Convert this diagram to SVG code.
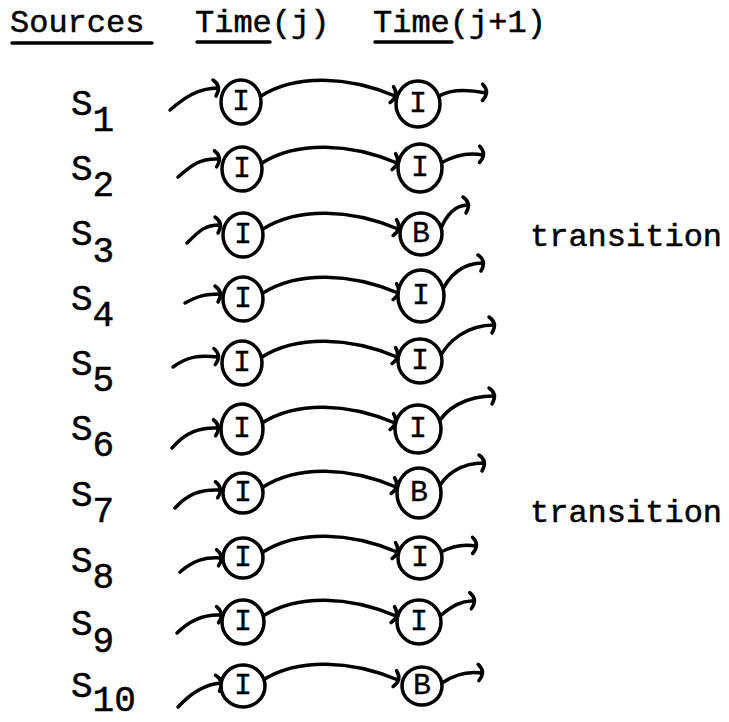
<svg xmlns="http://www.w3.org/2000/svg" width="729" height="722" viewBox="0 0 729 722">
  <style>
    .tw { font-family: "Liberation Mono", "Courier New", monospace; fill: #000; stroke: #000; stroke-width: 0.5; }
    .head { font-size: 32px; }
    .src { font-size: 36px; }
    .lab { font-size: 30px; text-anchor: middle; stroke-width: 0.3; }
    .uline { stroke: #000; stroke-width: 3.5; stroke-linecap: round; }
    .node ellipse { fill: #fff; stroke: #000; stroke-width: 3.5; }
    .edge { fill: none; stroke: #000; stroke-width: 3.5; stroke-linecap: round; marker-end: url(#hook); }
  </style>
  <defs>
    <marker id="hook" markerUnits="userSpaceOnUse" orient="auto" overflow="visible" markerWidth="20" markerHeight="20" refX="0" refY="0">
      <path d="M -5 -8 Q 4 -2 -2 8" fill="none" stroke="#000" stroke-width="3.5" stroke-linecap="round"/>
    </marker>
  </defs>
  <rect width="729" height="722" fill="#fff"/>

  <!-- column headings -->
  <g id="headings">
    <text class="tw head" x="10" y="32">Sources</text>
    <text class="tw head" x="195" y="32">Time(j)</text>
    <text class="tw head" x="373" y="32">Time(j+1)</text>
    <line class="uline" x1="12" y1="43" x2="152" y2="43"/>
    <line class="uline" x1="197" y1="42" x2="270" y2="42"/>
    <line class="uline" x1="375" y1="42" x2="452" y2="42"/>
  </g>

  <!-- source labels -->
  <g id="sources">
    <text class="tw src" x="71" y="115">S<tspan dy="16">1</tspan></text>
    <text class="tw src" x="71" y="180">S<tspan dy="16">2</tspan></text>
    <text class="tw src" x="71" y="245">S<tspan dy="17">3</tspan></text>
    <text class="tw src" x="71" y="310">S<tspan dy="16">4</tspan></text>
    <text class="tw src" x="71" y="375">S<tspan dy="16">5</tspan></text>
    <text class="tw src" x="71" y="440">S<tspan dy="16">6</tspan></text>
    <text class="tw src" x="71" y="506">S<tspan dy="16">7</tspan></text>
    <text class="tw src" x="71" y="572">S<tspan dy="16">8</tspan></text>
    <text class="tw src" x="71" y="635">S<tspan dy="17">9</tspan></text>
    <text class="tw src" x="71" y="697">S<tspan dy="14">10</tspan></text>
  </g>

  <!-- connectors: incoming, j to j+1, outgoing -->
  <g id="connectors">
    <path class="edge" d="M170,110 C184,98 198,88 218,88"/>
    <path class="edge" d="M261,96 C296,74 348,76 395,96"/>
    <path class="edge" d="M439,96 C453,88 471,90 486,93"/>

    <path class="edge" d="M178,177 C192,165 200,158 219,159"/>
    <path class="edge" d="M262,163 C297,141 350,143 397,163"/>
    <path class="edge" d="M441,163 C455,155 468,152 483,155"/>

    <path class="edge" d="M187,243 C200,230 205,225 220,225"/>
    <path class="edge" d="M263,229 C298,207 351,209 398,229"/>
    <path class="edge" d="M440,231 C446,215 455,205 468,205"/>

    <path class="edge" d="M185,303 C198,296 205,294 220,294"/>
    <path class="edge" d="M263,293 C298,271 351,273 398,293"/>
    <path class="edge" d="M440,295 C447,279 460,263 483,263"/>

    <path class="edge" d="M173,367 C188,356 200,355 218,357"/>
    <path class="edge" d="M262,357 C297,335 350,337 397,357"/>
    <path class="edge" d="M439,359 C448,340 468,325 494,325"/>

    <path class="edge" d="M172,448 C186,432 200,427 218,428"/>
    <path class="edge" d="M262,423 C297,401 348,403 395,423"/>
    <path class="edge" d="M437,425 C446,408 466,396 494,396"/>

    <path class="edge" d="M175,508 C188,494 200,489 220,490"/>
    <path class="edge" d="M263,487 C298,465 349,467 396,487"/>
    <path class="edge" d="M438,489 C445,475 460,463 484,463"/>

    <path class="edge" d="M180,572 C194,560 205,557 221,558"/>
    <path class="edge" d="M263,552 C298,530 350,532 397,552"/>
    <path class="edge" d="M441,552 C452,546 465,544 476,546"/>

    <path class="edge" d="M177,633 C190,620 205,614 221,615"/>
    <path class="edge" d="M263,616 C298,594 349,596 396,616"/>
    <path class="edge" d="M440,616 C452,606 462,600 474,601"/>

    <path class="edge" d="M178,707 C192,692 205,684 221,683"/>
    <path class="edge" d="M263,680 C298,658 351,660 398,680"/>
    <path class="edge" d="M442,683 C455,674 468,671 482,673"/>
  </g>

  <!-- time j nodes -->
  <g id="n1j" class="node"><ellipse cx="241" cy="102" rx="20" ry="22"/><text class="tw lab" x="241" y="110">I</text></g>
  <g id="n2j" class="node"><ellipse cx="242" cy="169" rx="20" ry="22"/><text class="tw lab" x="242" y="177">I</text></g>
  <g id="n3j" class="node"><ellipse cx="243" cy="235" rx="20" ry="22"/><text class="tw lab" x="243" y="243">I</text></g>
  <g id="n4j" class="node"><ellipse cx="243" cy="299" rx="20" ry="22"/><text class="tw lab" x="243" y="307">I</text></g>
  <g id="n5j" class="node"><ellipse cx="242" cy="363" rx="20" ry="22"/><text class="tw lab" x="242" y="371">I</text></g>
  <g id="n6j" class="node"><ellipse cx="242" cy="429" rx="21" ry="25"/><text class="tw lab" x="242" y="437">I</text></g>
  <g id="n7j" class="node"><ellipse cx="243" cy="493" rx="20" ry="20"/><text class="tw lab" x="243" y="501">I</text></g>
  <g id="n8j" class="node"><ellipse cx="243" cy="558" rx="20" ry="20"/><text class="tw lab" x="243" y="566">I</text></g>
  <g id="n9j" class="node"><ellipse cx="243" cy="622" rx="21" ry="22"/><text class="tw lab" x="243" y="630">I</text></g>
  <g id="n10j" class="node"><ellipse cx="243" cy="686" rx="22" ry="21"/><text class="tw lab" x="243" y="694">I</text></g>

  <!-- time j+1 nodes -->
  <g id="n1k" class="node"><ellipse cx="418" cy="104" rx="22" ry="23"/><text class="tw lab" x="418" y="112">I</text></g>
  <g id="n2k" class="node"><ellipse cx="420" cy="168" rx="22" ry="24"/><text class="tw lab" x="420" y="176">I</text></g>
  <g id="n3k" class="node"><ellipse cx="421" cy="234" rx="21" ry="21"/><text class="tw lab" x="421" y="242">B</text></g>
  <g id="n4k" class="node"><ellipse cx="421" cy="296" rx="23" ry="26"/><text class="tw lab" x="421" y="304">I</text></g>
  <g id="n5k" class="node"><ellipse cx="420" cy="361" rx="22" ry="22"/><text class="tw lab" x="420" y="369">I</text></g>
  <g id="n6k" class="node"><ellipse cx="418" cy="429" rx="23" ry="24"/><text class="tw lab" x="418" y="437">I</text></g>
  <g id="n7k" class="node"><ellipse cx="419" cy="493" rx="22" ry="25"/><text class="tw lab" x="419" y="501">B</text></g>
  <g id="n8k" class="node"><ellipse cx="420" cy="558" rx="22" ry="21"/><text class="tw lab" x="420" y="566">I</text></g>
  <g id="n9k" class="node"><ellipse cx="419" cy="622" rx="22" ry="22"/><text class="tw lab" x="419" y="630">I</text></g>
  <g id="n10k" class="node"><ellipse cx="422" cy="686" rx="20" ry="19"/><text class="tw lab" x="422" y="694">B</text></g>

  <!-- annotations -->
  <g id="notes">
    <text class="tw head" x="530" y="246">transition</text>
    <text class="tw head" x="530" y="522">transition</text>
  </g>
</svg>
